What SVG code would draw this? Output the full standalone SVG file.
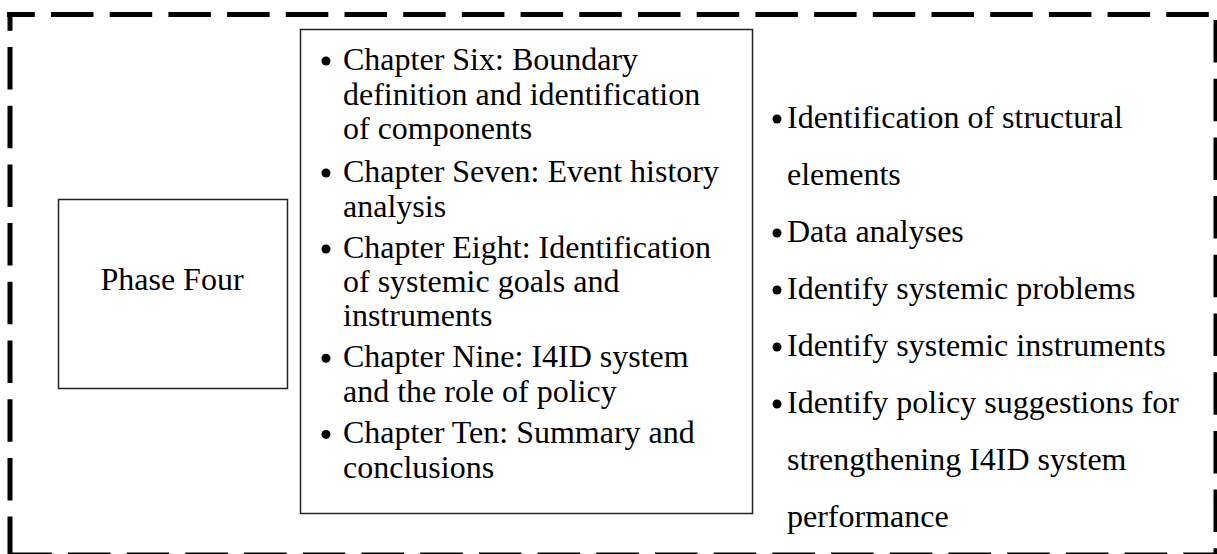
<svg xmlns="http://www.w3.org/2000/svg" width="1217" height="554" viewBox="0 0 1217 554">
  <style>
    .frame { stroke: #000; stroke-width: 5; fill: none; stroke-dasharray: 42.5 16.2; }
    .box { fill: #fff; stroke: #222; stroke-width: 1.5; }
    .t { font-family: "Liberation Serif", "Times New Roman", serif; font-size: 32px; fill: #000; }
    .dot { fill: #000; }
  </style>

  <rect x="0" y="0" width="1217" height="554" fill="#fff"/>

  <!-- dashed outer frame, one line per side -->
  <g id="frame">
    <line class="frame" x1="7" y1="14.5" x2="1217" y2="14.5" stroke-dashoffset="14.7"/>
    <line class="frame" x1="10" y1="12" x2="10" y2="554" stroke-dashoffset="23.7"/>
    <line class="frame" x1="1216" y1="12" x2="1216" y2="554" stroke-dashoffset="50.7"/>
    <line class="frame" x1="7" y1="555" x2="1217" y2="555" stroke-dashoffset="56.4"/>
  </g>

  <g id="phase">
    <rect class="box" x="58.5" y="199.5" width="229" height="189"/>
    <text class="t" x="172" y="290" text-anchor="middle">Phase Four</text>
  </g>

  <g id="chapters">
    <rect class="box" x="300.5" y="29.5" width="452" height="484"/>
    <circle class="dot" cx="326" cy="61" r="4.5"/>
    <circle class="dot" cx="326" cy="173" r="4.5"/>
    <circle class="dot" cx="326" cy="249" r="4.5"/>
    <circle class="dot" cx="326" cy="358.3" r="4.5"/>
    <circle class="dot" cx="326" cy="434.4" r="4.5"/>
    <text class="t" x="343" y="70">Chapter Six: Boundary</text>
    <text class="t" x="343" y="104.5">definition and identification</text>
    <text class="t" x="343" y="139">of components</text>
    <text class="t" x="343" y="182">Chapter Seven: Event history</text>
    <text class="t" x="343" y="216.5">analysis</text>
    <text class="t" x="343" y="258">Chapter Eight: Identification</text>
    <text class="t" x="343" y="292">of systemic goals and</text>
    <text class="t" x="343" y="326">instruments</text>
    <text class="t" x="343" y="367.3">Chapter Nine: I4ID system</text>
    <text class="t" x="343" y="401.8">and the role of policy</text>
    <text class="t" x="343" y="443.4">Chapter Ten: Summary and</text>
    <text class="t" x="343" y="477.9">conclusions</text>
  </g>

  <g id="tasks">
    <circle class="dot" cx="777" cy="119" r="4.5"/>
    <circle class="dot" cx="777" cy="233" r="4.5"/>
    <circle class="dot" cx="777" cy="290" r="4.5"/>
    <circle class="dot" cx="777" cy="347" r="4.5"/>
    <circle class="dot" cx="777" cy="404" r="4.5"/>
    <text class="t" x="787" y="128">Identification of structural</text>
    <text class="t" x="787" y="185">elements</text>
    <text class="t" x="787" y="242">Data analyses</text>
    <text class="t" x="787" y="299">Identify systemic problems</text>
    <text class="t" x="787" y="356">Identify systemic instruments</text>
    <text class="t" x="787" y="413">Identify policy suggestions for</text>
    <text class="t" x="787" y="470">strengthening I4ID system</text>
    <text class="t" x="787" y="527">performance</text>
  </g>
</svg>
